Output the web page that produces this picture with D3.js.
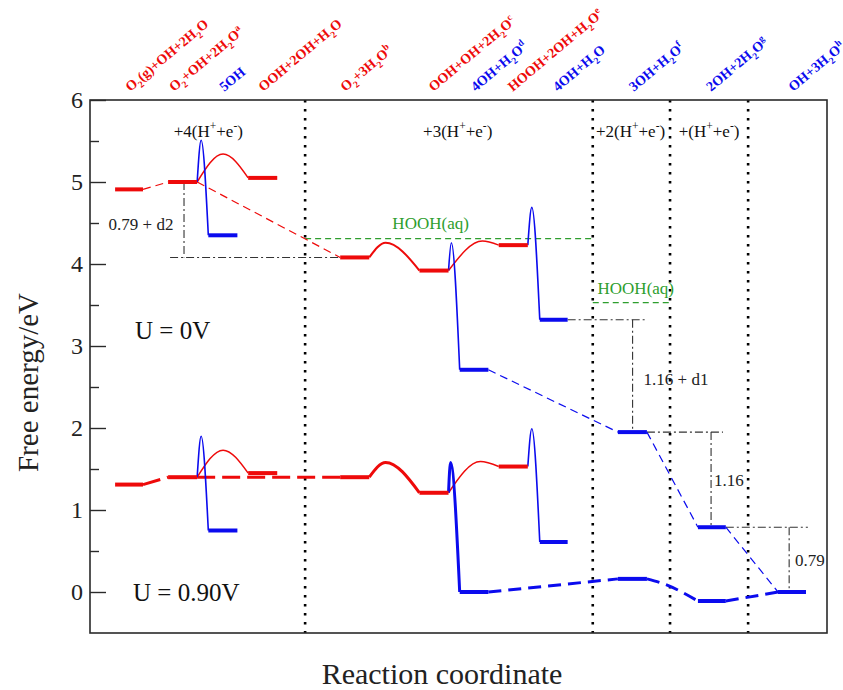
<!DOCTYPE html>
<meta charset="utf-8">
<style>
body { margin: 0; background: #fff; }
text { font-family: "Liberation Serif", "Times New Roman", serif; }
</style>
<body>
<svg id="chart" width="843" height="690"></svg>
<script src="https://d3js.org/d3.v7.min.js"></script>
<script>
// ---- data (reaction coordinate, energy in eV) ----
const yTicks = [0, 1, 2, 3, 4, 5, 6];
const yMinor = [0.5, 1.5, 2.5, 3.5, 4.5, 5.5];

// level bars [start, end, energy]
const redLevels0 = [[0.63,1.33,4.91],[1.96,2.69,5.00],[3.97,4.70,5.05],[6.28,7.01,4.08],[8.27,9.00,3.92],[10.26,10.99,4.23]];
const blueLevels0 = [[2.97,3.70,4.35],[9.28,10.00,2.71],[11.29,11.99,3.32],[13.25,13.98,1.95],[15.26,15.96,0.79],[17.27,17.97,0.00]];
const redLevels90 = [[0.63,1.33,1.31],[1.96,2.69,1.40],[3.97,4.70,1.45],[6.28,7.01,1.40],[8.27,9.00,1.21],[10.26,10.99,1.53]];
const blueLevels90 = [[2.97,3.70,0.75],[9.28,10.00,0.00],[11.29,11.99,0.61],[13.25,13.98,0.16],[15.26,15.96,-0.11],[17.27,17.97,0.00]];

// barriers: start, top, end
const redArcs0 = [[[2.69,5.00],[3.34,5.34],[3.97,5.05]], [[7.01,4.08],[7.42,4.26],[8.27,3.92]], [[9.00,3.92],[9.85,4.28],[10.26,4.23]]];
const redArcs90 = [[[2.69,1.40],[3.34,1.73],[3.97,1.45]], [[7.01,1.40],[7.42,1.58],[8.27,1.21]], [[9.00,1.21],[9.80,1.59],[10.26,1.53]]];
const blueSpikes0 = [[[2.69,5.00],[2.79,5.51],[2.97,4.35]], [[9.00,3.92],[9.07,4.26],[9.28,2.71]], [[10.99,4.23],[11.09,4.69],[11.29,3.32]]];
const blueSpikes90 = [[[2.69,1.40],[2.79,1.90],[2.97,0.75]], [[9.00,1.21],[9.05,1.58],[9.28,0.00]], [[10.99,1.53],[11.09,1.99],[11.29,0.61]]];

// dashed connectors
const redDash0 = [[[1.33,4.91],[1.96,5.00]], [[2.69,5.00],[6.28,4.08]]];
const blueDash0 = [[[10.00,2.71],[13.25,1.95]], [[13.98,1.95],[15.26,0.79]], [[15.96,0.79],[17.27,0.00]]];
const redDash90 = [[[1.33,1.31],[1.96,1.40]], [[2.69,1.40],[6.28,1.40]]];
const blueDash90 = [[[10.00,0.00],[13.25,0.16]], [[13.98,0.16],[14.40,0.10],[15.26,-0.11]], [[15.96,-0.11],[17.27,0.00]]];

// HOOH(aq) reference levels [start, end, energy]
const hoohLevels = [[5.40,12.62,4.31],[12.62,14.56,3.53]];

// dash-dot guides
const guides = [[[2.36,5.00],[2.36,4.08]], [[2.01,4.08],[6.28,4.08]],
  [[11.99,3.32],[13.95,3.32]], [[13.62,3.32],[13.62,1.95]],
  [[13.98,1.95],[15.89,1.95]], [[15.59,1.95],[15.59,0.79]],
  [[15.96,0.79],[18.02,0.79]], [[17.55,0.79],[17.55,0.00]]];

const dividers = [5.40, 12.62, 14.56, 16.52];

const stateNames = ["O_2(g)+OH+2H_2O","O_2+OH+2H_2O^a","5OH","OOH+2OH+H_2O","O_2+3H_2O^b","OOH+OH+2H_2O^c",
  "4OH+H_2O^d","HOOH+2OH+H_2O^e","4OH+H_2O","3OH+H_2O^f","2OH+2H_2O^g","OH+3H_2O^h"];
const stateX = [1.01, 2.11, 3.37, 4.35, 6.41, 8.62, 9.68, 10.61, 11.74, 13.65, 15.59, 17.65];
const stateColor = ["r","r","b","r","r","r","b","r","b","b","b","b"];

const stepNames = ["+4(H^++e^-)", "+3(H^++e^-)", "+2(H^++e^-)", "+(H^++e^-)"];
const stepX = [2.97, 9.23, 13.57, 15.54];

const notes = [
  {t:"0.79 + d2", x:1.28, e:4.41, c:"#222"},
  {t:"1.16 + d1", x:14.71, e:2.52, c:"#222"},
  {t:"1.16", x:16.04, e:1.29, c:"#222"},
  {t:"0.79", x:18.07, e:0.32, c:"#222"},
  {t:"HOOH(aq)", x:8.55, e:4.43, c:"#2e9e2e"},
  {t:"HOOH(aq)", x:13.70, e:3.63, c:"#2e9e2e"}
];
const potentials = [{t:"U = 0V", x:1.13, e:3.09}, {t:"U = 0.90V", x:1.08, e:-0.11}];

// ---- layout ----
const RED = "#ee0a0a", BLUE = "#0b0bee", GREEN = "#2e9e2e", INK = "#2a2a2a";
const svg = d3.select("#chart");
const L = 90, R = 827, T = 100, B = 633;
const x = d3.scaleLinear().domain([0, 18.5]).range([L, R]);
const y = d3.scaleLinear().domain([-0.5, 6]).range([B, T]);

const line = d3.line().x(d => x(d[0])).y(d => y(d[1]));
const curve = d3.line().x(d => x(d[0])).y(d => y(d[1])).curve(d3.curveMonotoneX);

function rich(sel, str, size) {
  const parts = [];
  let i = 0;
  while (i < str.length) {
    const c = str[i];
    if (c === "_" || c === "^") { parts.push({t: str[i + 1], k: c}); i += 2; }
    else {
      let j = i;
      while (j < str.length && str[j] !== "_" && str[j] !== "^") j++;
      parts.push({t: str.slice(i, j), k: ""}); i = j;
    }
  }
  let cur = 0;
  parts.forEach(p => {
    const s = p.k === "_" ? size * 0.3 : p.k === "^" ? -size * 0.4 : 0;
    const ts = sel.append("tspan").attr("dy", s - cur).text(p.t);
    if (p.k) ts.attr("font-size", size * 0.68);
    cur = s;
  });
}

// dotted dividers
svg.selectAll(".div").data(dividers).join("line")
  .attr("x1", d => x(d)).attr("x2", d => x(d)).attr("y1", T).attr("y2", B)
  .attr("stroke", "#000").attr("stroke-width", 2.6).attr("stroke-dasharray", "2.6,6.4");

// HOOH(aq)
svg.selectAll(".hooh").data(hoohLevels).join("line")
  .attr("x1", d => x(d[0])).attr("x2", d => x(d[1])).attr("y1", d => y(d[2])).attr("y2", d => y(d[2]))
  .attr("stroke", GREEN).attr("stroke-width", 1.3).attr("stroke-dasharray", "6,4");

// dash-dot guides
svg.selectAll(".guide").data(guides).join("path")
  .attr("d", line).attr("fill", "none").attr("stroke", "#333").attr("stroke-width", 1.1)
  .attr("stroke-dasharray", "8,3,2,3");

function dashed(data, color, w, dash, gen) {
  svg.append("g").selectAll("path").data(data).join("path")
    .attr("d", gen || line).attr("fill", "none").attr("stroke", color)
    .attr("stroke-width", w).attr("stroke-dasharray", dash);
}
dashed(redDash0, RED, 1.2, "8,5");
dashed(blueDash0, BLUE, 1.2, "8,5");
dashed(redDash90, RED, 3, "18,7");
dashed(blueDash90, BLUE, 3, "13,7", curve);

function curves(data, color, widths) {
  svg.append("g").selectAll("path").data(data).join("path")
    .attr("d", curve).attr("fill", "none").attr("stroke", color)
    .attr("stroke-width", (d, i) => widths[i]);
}
curves(redArcs0, RED, [1.5, 2, 1.5]);
curves(redArcs90, RED, [1.5, 3, 1.5]);
curves(blueSpikes0, BLUE, [1.6, 1.6, 1.6]);
curves(blueSpikes90, BLUE, [1.6, 3, 1.6]);

function levels(data, color) {
  svg.append("g").selectAll("line").data(data).join("line")
    .attr("x1", d => x(d[0])).attr("x2", d => x(d[1]))
    .attr("y1", d => y(d[2])).attr("y2", d => y(d[2]))
    .attr("stroke", color).attr("stroke-width", 4);
}
levels(redLevels0, RED);
levels(blueLevels0, BLUE);
levels(redLevels90, RED);
levels(blueLevels90, BLUE);

// frame
svg.append("rect").attr("x", L).attr("y", T).attr("width", R - L).attr("height", B - T)
  .attr("fill", "none").attr("stroke", INK).attr("stroke-width", 1.6);

// y axis ticks (inside)
const yAxis = d3.axisRight(y).tickValues(yTicks).tickSize(16).tickFormat("");
const gy = svg.append("g").attr("transform", `translate(${L},0)`).call(yAxis);
gy.select(".domain").remove();
gy.selectAll("line").attr("stroke", INK).attr("stroke-width", 1.4);
const gm = svg.append("g").attr("transform", `translate(${L},0)`)
  .call(d3.axisRight(y).tickValues(yMinor).tickSize(9).tickFormat(""));
gm.select(".domain").remove();
gm.selectAll("line").attr("stroke", INK).attr("stroke-width", 1.4);
svg.append("g").selectAll("text").data(yTicks).join("text")
  .attr("x", L - 7).attr("y", d => y(d)).attr("dy", "0.34em")
  .attr("text-anchor", "end").attr("font-size", 24).attr("fill", "#222").text(d => d);

// axis titles
svg.append("text").attr("transform", `translate(38,${(T + B) / 2 + 16}) rotate(-90)`)
  .attr("text-anchor", "middle").attr("font-size", 29).attr("fill", "#222").text("Free energy/eV");
svg.append("text").attr("x", 442).attr("y", 684).attr("text-anchor", "middle")
  .attr("font-size", 30).attr("fill", "#222").text("Reaction coordinate");

// state labels (rotated, top)
stateNames.forEach((s, i) => {
  const t = svg.append("text")
    .attr("transform", `translate(${x(stateX[i])},${T - 8}) rotate(-40)`)
    .attr("font-size", 14).attr("font-weight", "bold").attr("fill", stateColor[i] === "r" ? RED : BLUE);
  rich(t, s, 14);
});

// proton/electron step labels
stepNames.forEach((s, i) => {
  const t = svg.append("text").attr("x", x(stepX[i])).attr("y", y(5.55))
    .attr("text-anchor", "middle").attr("font-size", 17).attr("fill", "#111");
  rich(t, s, 17);
});

svg.append("g").selectAll("text").data(notes).join("text")
  .attr("x", d => x(d.x)).attr("y", d => y(d.e)).attr("text-anchor", "middle")
  .attr("font-size", 17).attr("fill", d => d.c).text(d => d.t);

svg.append("g").selectAll("text").data(potentials).join("text")
  .attr("x", d => x(d.x)).attr("y", d => y(d.e))
  .attr("font-size", 25).attr("fill", "#111").text(d => d.t);
</script>
</body>
